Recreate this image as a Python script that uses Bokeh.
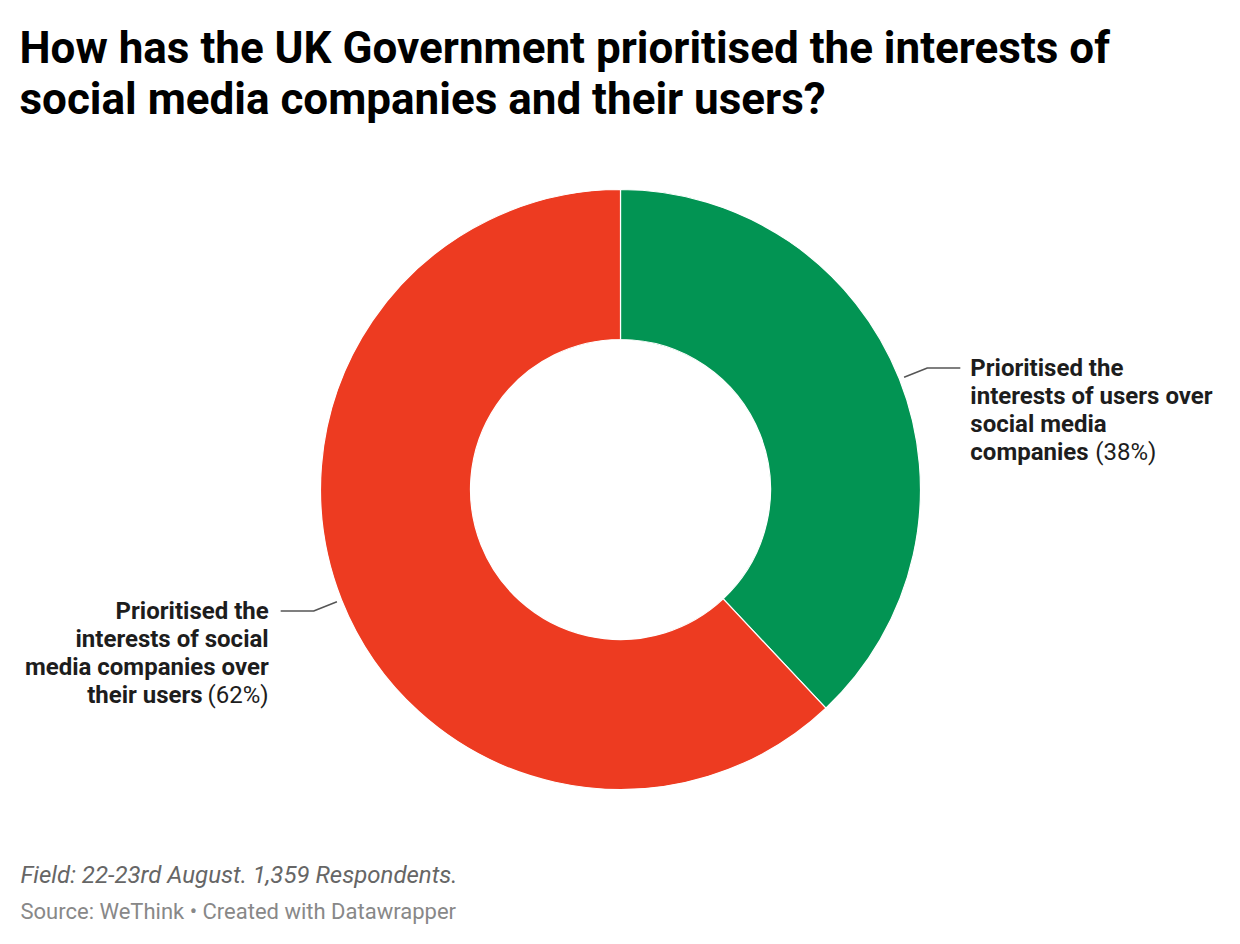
import math
import numpy as np
from bokeh.plotting import figure
from bokeh.models import Range1d, ColumnDataSource
from bokeh.core.properties import value
from bokeh.embed import file_html
from bokeh.resources import INLINE

# ---------------- data ----------------
title_lines = ["How has the UK Government prioritised the interests of",
               "social media companies and their users?"]
categories = ["Prioritised the interests of users over social media companies",
              "Prioritised the interests of social media companies over their users"]
values = [38, 62]
colors = ["#029453", "#ED3B21"]
label_lines = [
    ["Prioritised the", "interests of users over", "social media", "companies"],
    ["Prioritised the", "interests of social", "media companies over", "their users"],
]
note_text = "Field: 22-23rd August. 1,359 Respondents."
source_text = "Source: WeThink \u2022 Created with Datawrapper"

# ---------------- layout ----------------
W, H = 1240, 944
FONT = value("Roboto")
def Y(py):
    return H - py

p = figure(width=W, height=H, x_range=Range1d(0, W), y_range=Range1d(0, H),
           x_axis_type=None, y_axis_type=None, toolbar_location=None,
           output_backend="svg", min_border=0, outline_line_color=None,
           background_fill_color="white", border_fill_color="white")
p.xgrid.visible = False
p.ygrid.visible = False

# title
for i, t in enumerate(title_lines):
    p.text(x=[19], y=[Y(47 + i * 51)], text=[t], text_font=FONT, text_font_style="bold",
           text_font_size="44px", text_color="#000000", text_baseline="middle", text_align="left")

# donut
cx, cy = 620, Y(489)
r_in, r_out = 150, 300
vals = np.array(values, dtype=float)
fr = vals / vals.sum()
ends = np.cumsum(fr)
starts = ends - fr
start_angle = math.pi / 2 - 2 * math.pi * starts
end_angle = math.pi / 2 - 2 * math.pi * ends
src = ColumnDataSource(dict(start=start_angle, end=end_angle, color=colors, cat=categories))
p.annular_wedge(x=cx, y=cy, inner_radius=r_in, outer_radius=r_out,
                start_angle="start", end_angle="end", direction="clock",
                fill_color="color", line_color="white", line_width=1.2, source=src)

# labels with leader lines
mid = math.pi / 2 - 2 * math.pi * (starts + fr / 2)
line_h = 28
FS = "24px"
for k in range(len(values)):
    a = mid[k]
    x0, y0 = cx + 305 * math.cos(a), cy + 305 * math.sin(a)
    x1, y1 = cx + 330 * math.cos(a), cy + 330 * math.sin(a)
    right = math.cos(a) >= 0
    x2 = x1 + 33 if right else x1 - 33
    p.line(x=[x0, x1, x2], y=[y0, y1, y1], line_color="#555555", line_width=1.5)
    tx = x2 + 10 if right else x2 - 12
    align = "left" if right else "right"
    lines = label_lines[k]
    pct = f"({values[k]}%)"
    for j, ln in enumerate(lines):
        yy = y1 - j * line_h
        last = j == len(lines) - 1
        if last:
            if right:
                p.text(x=[tx], y=[yy], text=[ln], text_font=FONT, text_font_style="bold",
                       text_font_size=FS, text_color="#1d1d1d", text_baseline="middle", text_align="left")
                p.text(x=[tx + 125], y=[yy], text=[pct], text_font=FONT, text_font_style="normal",
                       text_font_size=FS, text_color="#1d1d1d", text_baseline="middle", text_align="left")
            else:
                p.text(x=[tx], y=[yy], text=[pct], text_font=FONT, text_font_style="normal",
                       text_font_size=FS, text_color="#1d1d1d", text_baseline="middle", text_align="right")
                p.text(x=[tx - 66], y=[yy], text=[ln], text_font=FONT, text_font_style="bold",
                       text_font_size=FS, text_color="#1d1d1d", text_baseline="middle", text_align="right")
        else:
            p.text(x=[tx], y=[yy], text=[ln], text_font=FONT, text_font_style="bold",
                   text_font_size=FS, text_color="#1d1d1d", text_baseline="middle", text_align=align)

# footer
p.text(x=[20], y=[Y(874)], text=[note_text], text_font=FONT, text_font_style="italic",
       text_font_size="24px", text_color="#666666", text_baseline="middle", text_align="left")
p.text(x=[20], y=[Y(911)], text=[source_text], text_font=FONT, text_font_style="normal",
       text_font_size="22px", text_color="#888888", text_baseline="middle", text_align="left")

open("out.html", "w").write(file_html(p, INLINE))
